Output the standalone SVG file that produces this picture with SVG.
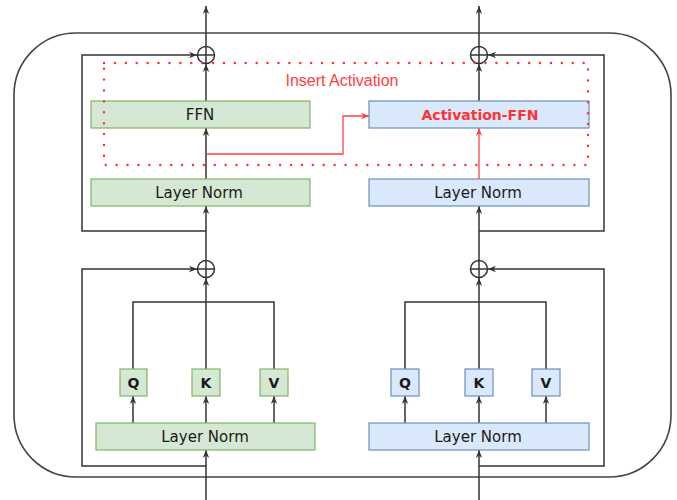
<svg xmlns="http://www.w3.org/2000/svg" width="677" height="500" viewBox="0 0 677 500">
<style>
.bg{fill:#ffffff}
.line{fill:none;stroke:#333333;stroke-width:1.5}
.red{fill:none;stroke:#ff4040;stroke-width:1.3}
.outer{fill:none;stroke:#444444;stroke-width:1.6}
.green{fill:#d5e8d4;stroke:#82b366;stroke-width:1.2}
.blue{fill:#dae8fc;stroke:#6c8ebf;stroke-width:1.2}
.lbl{font-family:"DejaVu Sans","Liberation Sans",sans-serif;font-size:15px;fill:#1a1a1a;text-anchor:middle;dominant-baseline:central}
.qkv{font-family:"DejaVu Sans","Liberation Sans",sans-serif;font-size:14px;font-weight:bold;fill:#1a1a1a;text-anchor:middle;dominant-baseline:central}
.redlbl{font-family:"DejaVu Sans","Liberation Sans",sans-serif;font-size:14px;font-weight:bold;fill:#ff3333;text-anchor:middle;dominant-baseline:central}
.note{font-family:"Liberation Sans",Arial,sans-serif;font-size:16px;fill:#ff4040;text-anchor:middle}
.sum{fill:#ffffff;stroke:#333333;stroke-width:1.5}
.dots{fill:none;stroke:#ff3333;stroke-width:2.4;stroke-linecap:round;stroke-dasharray:0.1 10.8}
</style>
<defs>
<marker id="arr" viewBox="0 0 10 10" refX="10" refY="5" markerWidth="8" markerHeight="8" markerUnits="userSpaceOnUse" orient="auto">
<path d="M0,1 L10,5 L0,9 L3,5 z" fill="#333333"/>
</marker>
<marker id="arrRed" viewBox="0 0 10 10" refX="10" refY="5" markerWidth="8" markerHeight="8" markerUnits="userSpaceOnUse" orient="auto">
<path d="M0,1 L10,5 L0,9 L3,5 z" fill="#ff4040"/>
</marker>
</defs>
<rect class="bg" x="0" y="0" width="677" height="500"/>
<g id="outer-block">
<rect class="outer" x="14" y="33" width="657" height="444" rx="62" ry="62"/>
</g>
<g id="connectors">
<path class="line" d="M206,500 V450" marker-end="url(#arr)"/>
<path class="line" d="M206,466 H82 V269 H197" marker-end="url(#arr)"/>
<path class="line" d="M133,423 V396" marker-end="url(#arr)"/>
<path class="line" d="M206,423 V396" marker-end="url(#arr)"/>
<path class="line" d="M274,423 V396" marker-end="url(#arr)"/>
<path class="line" d="M133,369 V302 H274 V369"/>
<path class="line" d="M206,369 V278" marker-end="url(#arr)"/>
<path class="line" d="M206,260 V206" marker-end="url(#arr)"/>
<path class="line" d="M206,231 H82 V55 H197" marker-end="url(#arr)"/>
<path class="line" d="M206,179 V128" marker-end="url(#arr)"/>
<path class="line" d="M206,101 V64" marker-end="url(#arr)"/>
<path class="line" d="M206,46 V6" marker-end="url(#arr)"/>
<path class="line" d="M479,500 V450" marker-end="url(#arr)"/>
<path class="line" d="M479,466 H604 V269 H488" marker-end="url(#arr)"/>
<path class="line" d="M405,423 V396" marker-end="url(#arr)"/>
<path class="line" d="M479,423 V396" marker-end="url(#arr)"/>
<path class="line" d="M546,423 V396" marker-end="url(#arr)"/>
<path class="line" d="M405,369 V302 H546 V369"/>
<path class="line" d="M479,369 V278" marker-end="url(#arr)"/>
<path class="line" d="M479,260 V206" marker-end="url(#arr)"/>
<path class="line" d="M479,231 H604 V55 H488" marker-end="url(#arr)"/>
<path class="red" d="M479,179 V128" marker-end="url(#arrRed)"/>
<path class="line" d="M479,101 V64" marker-end="url(#arr)"/>
<path class="line" d="M479,46 V6" marker-end="url(#arr)"/>
<path class="red" d="M206,154 H343 V116 H369" marker-end="url(#arrRed)"/>
</g>
<g id="sum-top-left"><circle class="sum" cx="206" cy="55" r="8.5"/><path class="line" d="M197.5,55 H214.5 M206,46.5 V63.5"/></g>
<g id="sum-top-right"><circle class="sum" cx="479" cy="55" r="8.5"/><path class="line" d="M470.5,55 H487.5 M479,46.5 V63.5"/></g>
<g id="sum-bottom-left"><circle class="sum" cx="206" cy="269" r="8.5"/><path class="line" d="M197.5,269 H214.5 M206,260.5 V277.5"/></g>
<g id="sum-bottom-right"><circle class="sum" cx="479" cy="269" r="8.5"/><path class="line" d="M470.5,269 H487.5 M479,260.5 V277.5"/></g>
<g id="ffn"><rect class="green" x="91" y="101" width="219" height="27"/><text class="lbl" x="200" y="115">FFN</text></g>
<g id="layernorm-top-left"><rect class="green" x="91" y="179" width="219" height="27"/><text class="lbl" x="199" y="193">Layer Norm</text></g>
<g id="activation-ffn"><rect class="blue" x="369" y="101" width="220" height="27"/><text class="redlbl" x="480" y="115">Activation-FFN</text></g>
<g id="layernorm-top-right"><rect class="blue" x="369" y="179" width="220" height="27"/><text class="lbl" x="478" y="193">Layer Norm</text></g>
<g id="q-left"><rect class="green" x="120" y="369" width="27" height="27"/><text class="qkv" x="133.5" y="383">Q</text></g>
<g id="k-left"><rect class="green" x="192" y="369" width="28" height="27"/><text class="qkv" x="206" y="383">K</text></g>
<g id="v-left"><rect class="green" x="260" y="369" width="28" height="27"/><text class="qkv" x="274" y="383">V</text></g>
<g id="layernorm-bottom-left"><rect class="green" x="96" y="423" width="219" height="27"/><text class="lbl" x="205" y="437">Layer Norm</text></g>
<g id="q-right"><rect class="blue" x="391" y="369" width="28" height="27"/><text class="qkv" x="405" y="383">Q</text></g>
<g id="k-right"><rect class="blue" x="465" y="369" width="28" height="27"/><text class="qkv" x="479" y="383">K</text></g>
<g id="v-right"><rect class="blue" x="532" y="369" width="28" height="27"/><text class="qkv" x="546" y="383">V</text></g>
<g id="layernorm-bottom-right"><rect class="blue" x="369" y="423" width="220" height="27"/><text class="lbl" x="478" y="437">Layer Norm</text></g>
<g id="insert-activation">
<rect class="dots" x="104" y="63" width="484" height="102"/>
<text class="note" x="342" y="86">Insert Activation</text>
</g>
</svg>
